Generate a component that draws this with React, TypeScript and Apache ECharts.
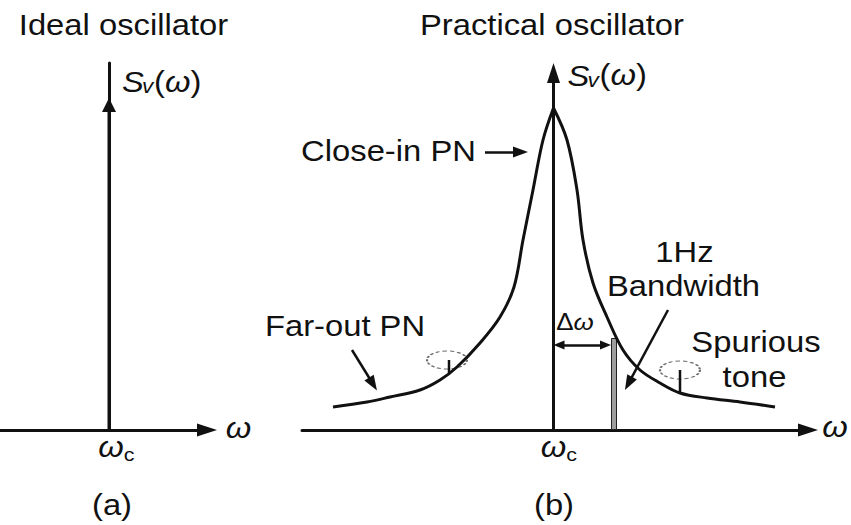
import React, { useEffect, useRef } from 'react';
import * as echarts from 'echarts';

// ---- data (arbitrary units: x = offset from carrier ωc, y = spectral density) ----
const carrierA: [number, number][] = [[0, 0], [0, 32.5]];
const carrierB: [number, number][] = [[0, 0], [0, 32.2]];

const curveLeft: [number, number][] = [
  [-22.05, 2.3], [-18.65, 2.8], [-16.35, 3.3], [-13.35, 4.0], [-11.35, 5.0],
  [-9.65, 6.3], [-7.35, 8.7], [-5.35, 11.3], [-3.95, 14.3], [-3.05, 19.0],
  [-2.05, 24.0], [-1.05, 29.0], [0, 32.2],
];
const curveRight: [number, number][] = [
  [0, 32.2], [1.35, 29.0], [2.35, 24.0], [2.95, 19.0], [3.95, 14.7],
  [5.35, 11.3], [6.95, 8.0], [8.65, 6.0], [10.65, 4.7], [12.65, 3.7],
  [15.35, 3.2], [18.65, 2.8], [22.15, 2.3],
];
const spurLeft: [number, number][] = [[-10.45, 5.69], [-10.45, 7.0]];
const spurRight: [number, number][] = [[12.65, 3.7], [12.65, 6.0]];
const spurRings: [number, number][] = [[-10.65, 7.0], [12.65, 6.0]];
const bandwidthBar: [number, number][] = [[6.05, 9.2]];

// annotation arrows: [start, end]
const closeInArrow: [number, number][] = [[-6.85, 27.8], [-3.3, 27.8]];
const farOutArrow: [number, number][] = [[-20.15, 8.0], [-18.05, 4.6]];
const bandwidthArrow: [number, number][] = [[11.45, 12.0], [7.5, 4.66]];
const deltaOmegaArrow: [number, number][] = [[0.55, 8.5], [5.2, 8.5]];

const FONT = '"Liberation Sans", Arial, Helvetica, sans-serif';
const INK = '#111';
const SX = 1.13;

function txt(x: number, y: number, text: string, opts: any = {}) {
  const align = opts.align || 'center';
  return {
    type: 'text',
    x,
    y,
    scaleX: SX,
    z: 100,
    style: {
      text,
      fontSize: opts.fontSize || 29,
      fontFamily: FONT,
      fontStyle: opts.italic ? 'italic' : 'normal',
      fill: INK,
      align,
      textAlign: align,
      verticalAlign: 'middle',
      textVerticalAlign: 'middle',
      rich: opts.rich,
    },
  };
}

const richW = (fs: number) => ({ w: { fontStyle: 'italic', fontSize: fs, fontFamily: FONT, fill: INK } });

function svLabel(x: number, y: number) {
  return [
    txt(x, y, 'S', { italic: true, align: 'left' }),
    txt(x + 20, y + 4, 'v', { italic: true, align: 'left', fontSize: 20 }),
    txt(x + 32, y - 0.5, '({w|ω})', { align: 'left', rich: richW(29) }),
  ];
}

function omegaC(x: number) {
  return [
    txt(x, 447, 'ω', { italic: true }),
    txt(x + 18, 454, 'c', { fontSize: 19 }),
  ];
}

const arrowLine = (pts: [number, number][], both: boolean, size: number[]) => [
  { coord: pts[0], symbol: both ? 'triangle' : 'none', symbolSize: size },
  { coord: pts[1], symbol: 'triangle', symbolSize: size },
];

export default function App() {
  const ref = useRef<HTMLDivElement>(null);

  useEffect(() => {
    if (!ref.current) return;
    const chart = echarts.init(ref.current, undefined, { renderer: 'svg' });
    const axisLineStyle = { color: INK, width: 3 };
    const hidden = {
      axisTick: { show: false },
      axisLabel: { show: false },
      splitLine: { show: false },
    };
    chart.setOption({
      animation: false,
      backgroundColor: '#ffffff',
      grid: [
        { left: 0, top: 63, width: 207, bottom: 95 },
        { left: 302, top: 73, width: 506, bottom: 95 },
      ],
      xAxis: [
        {
          gridIndex: 0, type: 'value', min: -10.9, max: 9.8, ...hidden,
          axisLine: { show: true, onZero: true, symbol: ['none', 'triangle'], symbolSize: [13, 20], lineStyle: axisLineStyle },
        },
        {
          gridIndex: 1, type: 'value', min: -25.15, max: 25.45, ...hidden,
          axisLine: { show: true, onZero: true, symbol: ['none', 'triangle'], symbolSize: [13, 20], lineStyle: axisLineStyle },
        },
      ],
      yAxis: [
        {
          gridIndex: 0, type: 'value', min: 0, max: 36.7, ...hidden,
          axisLine: { show: true, onZero: true, lineStyle: axisLineStyle },
        },
        {
          gridIndex: 1, type: 'value', min: 0, max: 35.7, ...hidden,
          axisLine: { show: true, onZero: true, symbol: ['none', 'triangle'], symbolSize: [13, 20], lineStyle: axisLineStyle },
        },
      ],
      series: [
        {
          name: 'ideal carrier', type: 'line', xAxisIndex: 0, yAxisIndex: 0,
          data: [
            { value: carrierA[0], symbol: 'none' },
            { value: carrierA[1], symbol: 'triangle', symbolSize: [14, 14] },
          ],
          lineStyle: { color: INK, width: 3 },
          itemStyle: { color: INK },
          silent: true,
        },
        {
          name: 'practical carrier', type: 'line', xAxisIndex: 1, yAxisIndex: 1,
          data: carrierB, symbol: 'none',
          lineStyle: { color: INK, width: 3 },
          silent: true,
          markLine: {
            silent: true,
            animation: false,
            label: { show: false },
            lineStyle: { color: INK, width: 2.5, type: 'solid' },
            emphasis: { disabled: true },
            data: [
              arrowLine(closeInArrow, false, [11, 15]),
              arrowLine(farOutArrow, false, [11, 15]),
              arrowLine(bandwidthArrow, false, [11, 15]),
              arrowLine(deltaOmegaArrow, true, [9, 11]),
            ],
          },
        },
        {
          name: 'bandwidth', type: 'bar', xAxisIndex: 1, yAxisIndex: 1,
          data: bandwidthBar, barWidth: 6, z: 1,
          itemStyle: { color: '#9e9e9e', borderColor: '#222', borderWidth: 1 },
          silent: true,
        },
        {
          name: 'PN left', type: 'line', xAxisIndex: 1, yAxisIndex: 1,
          data: curveLeft, symbol: 'none', smooth: 0.35, z: 3,
          lineStyle: { color: INK, width: 3 },
          silent: true,
        },
        {
          name: 'PN right', type: 'line', xAxisIndex: 1, yAxisIndex: 1,
          data: curveRight, symbol: 'none', smooth: 0.35, z: 3,
          lineStyle: { color: INK, width: 3 },
          silent: true,
        },
        {
          name: 'spur left', type: 'line', xAxisIndex: 1, yAxisIndex: 1,
          data: spurLeft, symbol: 'none',
          lineStyle: { color: INK, width: 2.5 },
          silent: true,
        },
        {
          name: 'spur right', type: 'line', xAxisIndex: 1, yAxisIndex: 1,
          data: spurRight, symbol: 'none',
          lineStyle: { color: INK, width: 2.5 },
          silent: true,
        },
        {
          name: 'spur rings', type: 'scatter', xAxisIndex: 1, yAxisIndex: 1,
          data: spurRings, symbol: 'circle', symbolSize: [40, 18],
          itemStyle: { color: 'rgba(0,0,0,0)', borderColor: '#4a4a4a', borderWidth: 1.5, borderType: [3, 2] },
          silent: true,
        },
      ],
      graphic: [
        txt(123.5, 25.5, 'Ideal oscillator'),
        txt(552, 25.5, 'Practical oscillator'),
        ...svLabel(122, 82.5),
        ...svLabel(567.5, 76),
        txt(388.5, 151, 'Close-in PN'),
        txt(345, 326.5, 'Far-out PN'),
        txt(684.5, 252.5, '1Hz'),
        txt(683.5, 286, 'Bandwidth'),
        txt(756, 342, 'Spurious'),
        txt(754.5, 377.5, 'tone'),
        txt(575, 322, 'Δ{w|ω}', { fontSize: 23, rich: richW(23) }),
        txt(238.5, 428.5, 'ω', { italic: true }),
        txt(835, 427, 'ω', { italic: true }),
        ...omegaC(111),
        ...omegaC(553.5),
        txt(112, 505, '(a)'),
        txt(554, 505, '(b)'),
      ],
    });
    return () => chart.dispose();
  }, []);

  return (
    <div
      ref={ref}
      style={{ position: 'absolute', left: 0, top: 0, width: 851, height: 525, background: '#fff' }}
    />
  );
}
